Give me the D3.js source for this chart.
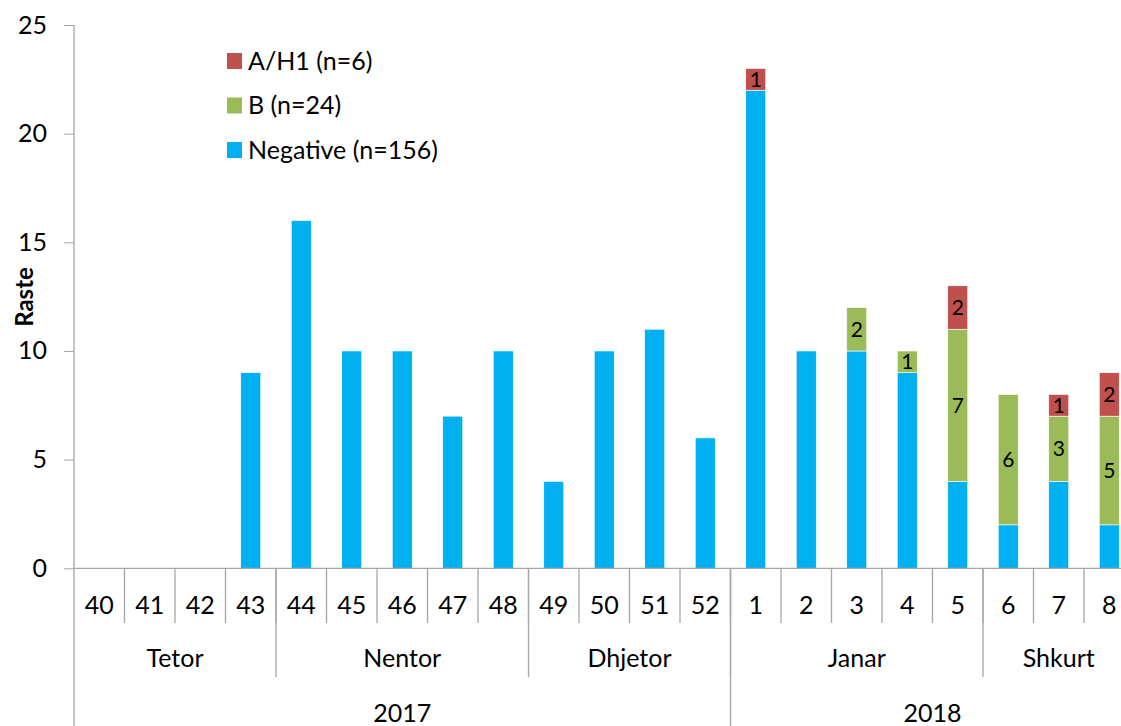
<!DOCTYPE html>
<html>
<head>
<meta charset="utf-8">
<script src="https://cdn.jsdelivr.net/npm/d3@7"></script>
<style>
html,body{margin:0;padding:0;background:#fff;}
svg{display:block;font-family:Lato,"Open Sans",sans-serif;}
</style>
</head>
<body>
<svg id="chart" width="1121" height="726"></svg>
<script>
// ---- data ----
const weeks = ["40","41","42","43","44","45","46","47","48","49","50","51","52","1","2","3","4","5","6","7","8"];
const negative = [0,0,0,9,16,10,10,7,10,4,10,11,6,22,10,10,9,4,2,4,2];
const fluB     = [0,0,0,0,0,0,0,0,0,0,0,0,0,0,0,2,1,7,6,3,5];
const fluAH1   = [0,0,0,0,0,0,0,0,0,0,0,0,0,1,0,0,0,2,0,1,2];
const seriesNames = ["Negative (n=156)","B (n=24)","A/H1 (n=6)"];
const months = ["Tetor","Nentor","Dhjetor","Janar","Shkurt"];
const monthSpans = [4,5,4,5,3];
const years = ["2017","2018"];
const yearSpans = [13,8];
const yTicks = [0,5,10,15,20,25];
const yLabel = "Raste";

// ---- layout ----
const colors = ["#00B0F0","#9BBB59","#C0504D"];
const axisColor = "#a6a6a6";
const svg = d3.select("#chart");
const left = 74, zeroY = 568.3, topY = 25;
const step = 50.5;
const x = d3.scaleBand().domain(weeks).range([left, left + step*weeks.length]).padding(0);
const y = d3.scaleLinear().domain([0,25]).range([zeroY, topY]);

const rows = weeks.map((w,i)=>({week:w, neg:negative[i], b:fluB[i], a:fluAH1[i]}));
const keys = ["neg","b","a"];
const stacked = d3.stack().keys(keys)(rows);

const barW = 20;
const g = svg.append("g");
stacked.forEach((s,si)=>{
  g.selectAll(null).data(s).join("rect")
    .attr("x", d=>x(d.data.week) + x.bandwidth()/2 - barW/2)
    .attr("y", d=>y(d[1]))
    .attr("width", barW)
    .attr("height", d=>y(d[0]) - y(d[1]))
    .attr("fill", colors[si])
    .attr("stroke", d=> d[1]>d[0] ? "#fff" : "none")
    .attr("stroke-width", 0.6)
    .style("display", d=> d[1]>d[0] ? null : "none");
  if (si>0) {
    g.selectAll(null).data(s.filter(d=>d[1]>d[0])).join("text")
      .attr("x", d=>x(d.data.week) + x.bandwidth()/2)
      .attr("y", d=>(y(d[0])+y(d[1]))/2)
      .attr("dy","0.36em")
      .attr("text-anchor","middle")
      .attr("font-size", 21)
      .attr("fill","#000")
      .text(d=>d[1]-d[0]);
  }
});

// y axis
const yAxis = d3.axisLeft(y).tickValues(yTicks).tickSize(10).tickPadding(17).tickFormat(d3.format("d"));
const ya = svg.append("g").attr("transform",`translate(${left},0)`).call(yAxis);
ya.select(".domain").remove();
ya.selectAll(".tick line").attr("stroke",axisColor);
ya.selectAll(".tick text").attr("font-size",25).attr("fill","#000").attr("font-family","Lato");
// vertical axis line from top down to bottom of image
svg.append("line").attr("x1",left).attr("x2",left).attr("y1",y(25)).attr("y2",726)
  .attr("stroke",axisColor).attr("stroke-width",1.3);
// zero line
svg.append("line").attr("x1",left).attr("x2",x.range()[1]).attr("y1",zeroY).attr("y2",zeroY)
  .attr("stroke",axisColor).attr("stroke-width",1.3);

// y label
svg.append("text").attr("transform",`translate(33,297) rotate(-90)`)
  .attr("text-anchor","middle").attr("font-weight","bold").attr("font-size",24)
  .attr("fill","#000").text(yLabel);

// week labels and separators
const xa = svg.append("g");
weeks.forEach((w,i)=>{
  if (i>0) xa.append("line").attr("x1",x(w)).attr("x2",x(w)).attr("y1",zeroY).attr("y2",623)
    .attr("stroke",axisColor).attr("stroke-width",1.3);
  xa.append("text").attr("x",x(w)+x.bandwidth()/2).attr("y",605).attr("dy","0.35em")
    .attr("text-anchor","middle").attr("font-size",25).attr("fill","#000").text(w);
});
// month labels
let idx = 0;
months.forEach((m,i)=>{
  const start = x(weeks[idx]);
  const end = start + monthSpans[i]*x.step();
  if (i>0) xa.append("line").attr("x1",start).attr("x2",start).attr("y1",zeroY).attr("y2",677)
    .attr("stroke",axisColor).attr("stroke-width",1.3);
  xa.append("text").attr("x",(start+end)/2).attr("y",658).attr("dy","0.35em")
    .attr("text-anchor","middle").attr("font-size",25).attr("fill","#000").text(m);
  idx += monthSpans[i];
});
// year labels
idx = 0;
years.forEach((yr,i)=>{
  const start = x(weeks[idx]);
  const end = start + yearSpans[i]*x.step();
  if (i>0) xa.append("line").attr("x1",start).attr("x2",start).attr("y1",zeroY).attr("y2",726)
    .attr("stroke",axisColor).attr("stroke-width",1.3);
  xa.append("text").attr("x",(start+end)/2).attr("y",713).attr("dy","0.35em")
    .attr("text-anchor","middle").attr("font-size",25).attr("fill","#000").text(yr);
  idx += yearSpans[i];
});

// legend (top to bottom: A/H1, B, Negative)
const legendOrder = [2,1,0];
const lg = svg.append("g");
legendOrder.forEach((si,k)=>{
  const cy = 61 + k*44.5;
  lg.append("rect").attr("x",227).attr("y",cy-8).attr("width",15).attr("height",16).attr("fill",colors[si]);
  lg.append("text").attr("x",248).attr("y",cy).attr("dy","0.35em")
    .attr("font-size",25).attr("fill","#000").text(seriesNames[si]);
});
</script>
</body>
</html>
